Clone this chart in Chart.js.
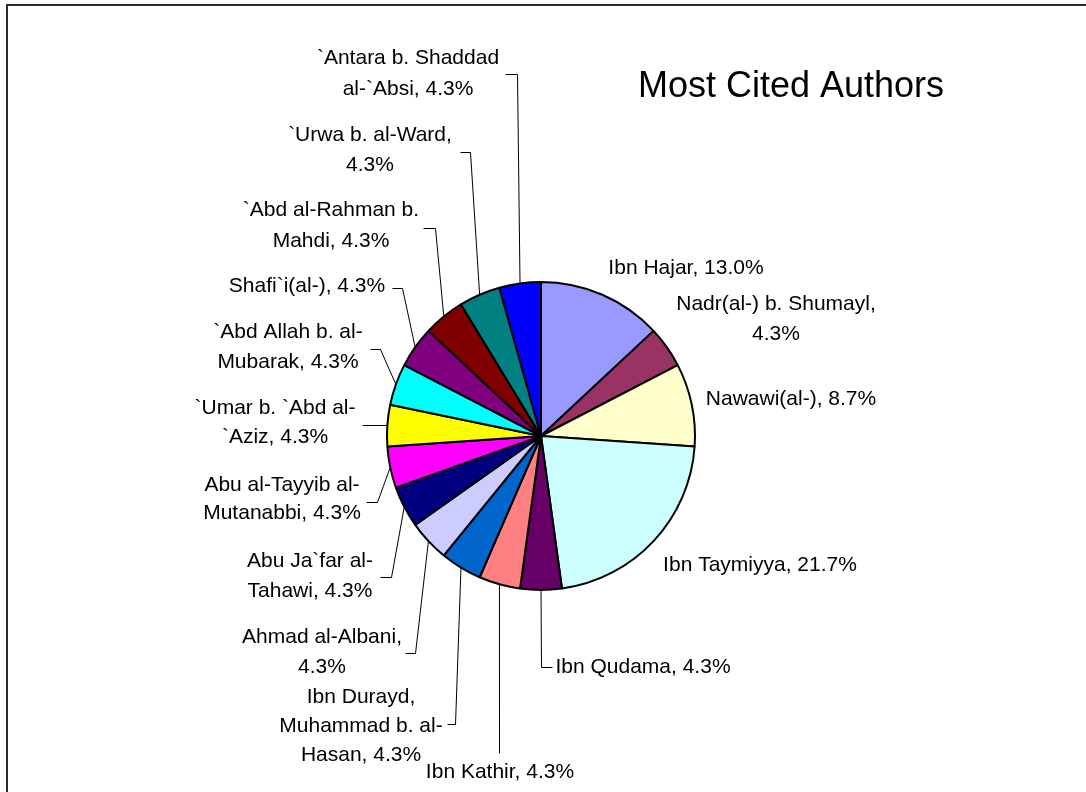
<!DOCTYPE html>
<html>
<head>
<meta charset="utf-8">
<script src="https://cdn.jsdelivr.net/npm/chart.js@4/dist/chart.umd.min.js"></script>
<style>
  html, body { margin: 0; padding: 0; background: #fff; }
  #wrap { width: 1086px; height: 792px; position: relative; }
</style>
</head>
<body>
<div id="wrap"><canvas id="c" width="1086" height="792"></canvas></div>
<script>
// ---- data ----
const title = 'Most Cited Authors';
const categories = [
  'Ibn Hajar',
  'Nadr(al-) b. Shumayl',
  'Nawawi(al-)',
  'Ibn Taymiyya',
  'Ibn Qudama',
  'Ibn Kathir',
  'Ibn Durayd, Muhammad b. al-Hasan',
  'Ahmad al-Albani',
  'Abu Ja`far al-Tahawi',
  'Abu al-Tayyib al-Mutanabbi',
  '`Umar b. `Abd al-`Aziz',
  '`Abd Allah b. al-Mubarak',
  'Shafi`i(al-)',
  '`Abd al-Rahman b. Mahdi',
  '`Urwa b. al-Ward',
  '`Antara b. Shaddad al-`Absi'
];
const citations = [3, 1, 2, 5, 1, 1, 1, 1, 1, 1, 1, 1, 1, 1, 1, 1];

// ---- styles / layout ----
const sliceColors = [
  '#9999FF', '#993366', '#FFFFCC', '#CCFFFF', '#660066', '#FF8080', '#0066CC', '#CCCCFF',
  '#000080', '#FF00FF', '#FFFF00', '#00FFFF', '#800080', '#800000', '#008080', '#0000FF'
];
// x,y: centre of first text line; lh: line height; wrap: tokens per line;
// leader: elbow points (null x = same x as slice anchor)
const labelLayout = [
  { x: 686, y: 268, lh: 30, wrap: null, leader: null },
  { x: 776, y: 304, lh: 30, wrap: [3, 1], leader: null },
  { x: 791, y: 399, lh: 30, wrap: null, leader: null },
  { x: 760, y: 565, lh: 30, wrap: null, leader: null },
  { x: 643, y: 667, lh: 30, wrap: null, leader: [[null, 667], [552, 667]] },
  { x: 500, y: 772, lh: 30, wrap: null, leader: [[null, 753]] },
  { x: 361, y: 697, lh: 29, wrap: [2, 3, 2], leader: [[455, 724], [447, 724]] },
  { x: 322, y: 637, lh: 30, wrap: [3, 1], leader: [[415, 653], [405, 653]] },
  { x: 310, y: 561, lh: 30, wrap: [3, 2], leader: [[391, 577], [380, 577]] },
  { x: 282, y: 485, lh: 28.5, wrap: [4, 2], leader: [[377, 502], [366, 502]] },
  { x: 275, y: 408, lh: 29, wrap: [4, 2], leader: [[362, 425]] },
  { x: 288, y: 332, lh: 30, wrap: [4, 2], leader: [[380, 349], [370, 349]] },
  { x: 307, y: 286, lh: 30, wrap: null, leader: [[402, 288], [392, 288]] },
  { x: 331, y: 210, lh: 31, wrap: [4, 2], leader: [[435, 228], [423, 228]] },
  { x: 370, y: 135, lh: 30, wrap: [4, 1], leader: [[470, 152], [460, 152]] },
  { x: 408, y: 58, lh: 31, wrap: [3, 3], leader: [[517, 74], [505, 74]] }
];
const FONT = '"Liberation Sans", Arial, Helvetica, sans-serif';

function wrapText(text, counts) {
  if (!counts) return [text];
  const tokens = text.split(/(?<= )|(?<=-)(?=[A-Za-z`])/);
  const lines = [];
  let i = 0;
  counts.forEach(n => {
    lines.push(tokens.slice(i, i + n).join('').trim());
    i += n;
  });
  if (i < tokens.length) lines[lines.length - 1] += tokens.slice(i).join('');
  return lines;
}

const total = citations.reduce((a, b) => a + b, 0);

const decorPlugin = {
  id: 'decor',
  afterDraw(chart) {
    const ctx = chart.ctx;
    ctx.save();
    // frame
    ctx.strokeStyle = '#2a2a2a';
    ctx.lineWidth = 2;
    ctx.strokeRect(7, 5, 1200, 1000);
    // title
    ctx.fillStyle = '#000';
    ctx.font = '36px ' + FONT;
    ctx.textAlign = 'center';
    ctx.textBaseline = 'middle';
    ctx.fillText(title, 791, 87);

    const meta = chart.getDatasetMeta(0);
    ctx.font = '21px ' + FONT;
    meta.data.forEach((arc, i) => {
      const p = arc.getProps(['x', 'y', 'startAngle', 'endAngle', 'outerRadius'], true);
      const mid = (p.startAngle + p.endAngle) / 2;
      const sx = p.x + Math.cos(mid) * p.outerRadius;
      const sy = p.y + Math.sin(mid) * p.outerRadius;
      const L = labelLayout[i];
      if (L.leader) {
        ctx.strokeStyle = '#000';
        ctx.lineWidth = 1;
        ctx.beginPath();
        ctx.moveTo(sx, sy);
        L.leader.forEach(pt => {
          const px = pt[0] === null ? Math.round(sx) + 0.5 : pt[0] + 0.5;
          ctx.lineTo(px, pt[1] + 0.5);
        });
        ctx.stroke();
      }
      const pct = (citations[i] / total * 100).toFixed(1) + '%';
      const lines = wrapText(categories[i] + ', ' + pct, L.wrap);
      ctx.fillStyle = '#000';
      lines.forEach((ln, k) => ctx.fillText(ln, L.x, L.y + k * L.lh));
    });
    ctx.restore();
  }
};

new Chart(document.getElementById('c'), {
  type: 'pie',
  data: {
    labels: categories,
    datasets: [{
      data: citations,
      backgroundColor: sliceColors,
      borderColor: '#000',
      borderWidth: 2,
      hoverOffset: 0
    }]
  },
  options: {
    responsive: false,
    animation: false,
    devicePixelRatio: 1,
    radius: 154,
    layout: { padding: { left: 0, right: 4, top: 80, bottom: 0 } },
    plugins: {
      legend: { display: false },
      tooltip: { enabled: false },
      title: { display: false }
    },
    events: []
  },
  plugins: [decorPlugin]
});
</script>
</body>
</html>
